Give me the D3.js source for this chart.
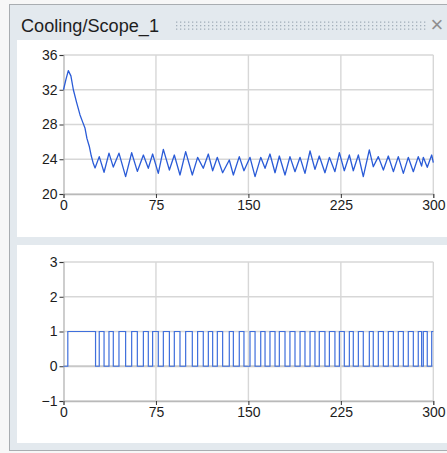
<!DOCTYPE html>
<html><head><meta charset="utf-8">
<script src="https://cdn.jsdelivr.net/npm/d3@7"></script>
<style>
html,body{margin:0;padding:0;background:#f7f7f7;}
svg{display:block;font-family:"Liberation Sans",Arial,sans-serif;}
</style></head>
<body>
<svg id="c" width="447" height="453"></svg>
<script>
const title = "Cooling/Scope_1";
const xTicks = [0, 75, 150, 225, 300];
const tempTicks = [20, 24, 28, 32, 36];
const switchTicks = [-1, 0, 1, 2, 3];

// Temperature trace (time, value) vertices
const tempTime = [0, 2, 3.9, 6, 8, 10.5, 13.4, 15.5, 17.4, 19, 20.9, 22.5, 24.2, 25.6,
  29, 32.9, 36.9, 40.4, 45, 50.4, 55.3, 59.9,
  64.8, 68.8, 72.3, 76.9, 81.0, 85.9, 89.9, 94.5, 99.1, 104.5, 108.8, 113.4, 117.5, 121.0,
  124.8, 129.1, 134.5, 137.8, 142.6, 146.4, 151.3, 155.4, 160.0, 163.5, 167.5, 171.6,
  175.1, 179.7, 183.7, 187.8, 191.9, 195.9, 200.0, 204.0, 207.5, 212.1, 215.7, 220.2,
  223.8, 227.8, 231.9, 235.1, 239.2, 243.2, 248.1, 251.3, 255.4, 259.5, 263.5, 267.6,
  271.6, 275.7, 279.7, 283.8, 287.8, 290.5, 291.9, 295.1, 298.7, 300];
const tempValue = [32.0, 33.2, 34.2, 33.6, 32.0, 30.6, 29.1, 28.3, 27.6, 26.4, 25.5, 24.4, 23.5, 23.0,
  24.3, 22.5, 24.7, 23.1, 24.7, 22.0, 24.75, 22.6,
  24.49, 22.96, 24.6, 22.38, 25.14, 22.76, 24.49, 22.19, 24.87, 22.19, 24.22, 22.96, 24.6, 22.68,
  24.22, 22.45, 23.91, 22.19, 24.3, 22.68, 24.22, 22.0, 24.22, 22.96, 24.6, 22.45,
  24.37, 22.19, 24.3, 22.57, 24.22, 22.38, 24.95, 22.84, 24.37, 22.45, 24.22, 22.57,
  24.76, 22.68, 24.49, 22.68, 24.49, 22.0, 25.07, 23.14, 24.3, 22.76, 24.37, 22.57,
  24.3, 22.38, 24.22, 22.57, 24.3, 23.22, 24.22, 23.07, 24.49, 23.6];

// Cooling switch: times where state changes, and the new state
const switchTime = [0, 3.5, 26, 29, 32.9, 36.9, 40.4, 45, 50.4, 55.3, 59.9,
  64.8, 68.8, 72.3, 76.9, 81.0, 85.9, 89.9, 94.5, 99.1, 104.5, 108.8, 113.4, 117.5, 121.0,
  124.8, 129.1, 134.5, 137.8, 142.6, 146.4, 151.3, 155.4, 160.0, 163.5, 167.5, 171.6,
  175.1, 179.7, 183.7, 187.8, 191.9, 195.9, 200.0, 204.0, 207.5, 212.1, 215.7, 220.2,
  223.8, 227.8, 231.9, 235.1, 239.2, 243.2, 248.1, 251.3, 255.4, 259.5, 263.5, 267.6,
  271.6, 275.7, 279.7, 283.8, 287.8, 290.5, 291.9, 295.1, 298.7, 300];
const switchState = [0, 1, 0, 1, 0, 1, 0, 1, 0, 1, 0,
  1, 0, 1, 0, 1, 0, 1, 0, 1, 0, 1, 0, 1, 0,
  1, 0, 1, 0, 1, 0, 1, 0, 1, 0, 1, 0,
  1, 0, 1, 0, 1, 0, 1, 0, 1, 0, 1, 0,
  1, 0, 1, 0, 1, 0, 1, 0, 1, 0, 1, 0,
  1, 0, 1, 0, 1, 0, 1, 0, 1, 1];

const svg = d3.select("#c");
const bg = "#e3e9ee";

// window frame
svg.append("rect").attr("x", 9.5).attr("y", 4.5).attr("width", 440).attr("height", 446)
  .attr("fill", bg).attr("stroke", "#a9adb1").attr("stroke-width", 1);

// title
svg.append("text").attr("x", 21).attr("y", 31.5).attr("font-size", 17.5)
  .attr("fill", "#1e1e1e").attr("textLength", 138).attr("lengthAdjust", "spacingAndGlyphs")
  .text(title);

// grip dots
const grip = svg.append("g").attr("fill", "#a3afba");
for (let gx = 176; gx <= 424; gx += 4) {
  [21.5, 25, 28.5].forEach(gy => {
    grip.append("rect").attr("x", gx).attr("y", gy).attr("width", 1.3).attr("height", 1.3);
  });
}
// close glyph
svg.append("text").attr("x", 437).attr("y", 32).attr("font-size", 22).attr("fill", "#8f8f8f")
  .attr("text-anchor", "middle").text("\u00d7");

// panels
svg.append("rect").attr("x", 17).attr("y", 40).attr("width", 430).attr("height", 197).attr("fill", "#fff");
svg.append("rect").attr("x", 17).attr("y", 245).attr("width", 430).attr("height", 198).attr("fill", "#fff");

const x = d3.scaleLinear().domain([0, 300]).range([63.5, 433.3]);

function drawAxes(y, yTicks, bottom) {
  const g = svg.append("g");
  g.selectAll(".hg").data(yTicks).enter().append("line")
    .attr("x1", x(0)).attr("x2", x(300)).attr("y1", d => y(d)).attr("y2", d => y(d))
    .attr("stroke", d => d === 0 ? "#c8c8c8" : "#d7d7d7").attr("stroke-width", d => d === 0 ? 2 : 1.4);
  g.selectAll(".vg").data(xTicks.slice(1)).enter().append("line")
    .attr("x1", d => x(d)).attr("x2", d => x(d)).attr("y1", y.range()[1]).attr("y2", y.range()[0])
    .attr("stroke", "#d7d7d7").attr("stroke-width", 1.4);
  const ya = d3.axisLeft(y).tickValues(yTicks).tickSize(4).tickPadding(2).tickFormat(d3.format("d"));
  const yg = svg.append("g").attr("transform", `translate(${x(0)},0)`).call(ya);
  yg.select(".domain").attr("stroke", "#b9b9b9").attr("stroke-width", 1.4);
  yg.selectAll(".tick line").attr("stroke", "#333");
  yg.selectAll(".tick text").attr("font-size", 14).attr("fill", "#1c1c1c")
    .attr("font-family", "'Liberation Sans',Arial,sans-serif");
  const xa = d3.axisBottom(x).tickValues(xTicks).tickSize(4).tickPadding(2).tickFormat(d3.format("d"));
  const xg = svg.append("g").attr("transform", `translate(0,${bottom})`).call(xa);
  xg.select(".domain").attr("stroke", "#b9b9b9").attr("stroke-width", 1.4);
  xg.selectAll(".tick line").attr("stroke", "#333");
  xg.selectAll(".tick text").attr("font-size", 14).attr("fill", "#1c1c1c")
    .attr("font-family", "'Liberation Sans',Arial,sans-serif");
}

// top chart
const yT = d3.scaleLinear().domain([20, 36]).range([194, 55]);
drawAxes(yT, tempTicks, 194);
const tempData = tempTime.map((t, i) => [t, tempValue[i]]);
svg.append("path").datum(tempData)
  .attr("d", d3.line().x(d => x(d[0])).y(d => yT(d[1])))
  .attr("fill", "none").attr("stroke", "#2a5bd7").attr("stroke-width", 1.3)
  .attr("stroke-linejoin", "round");

// bottom chart
const yB = d3.scaleLinear().domain([-1, 3]).range([401, 262]);
drawAxes(yB, switchTicks, 401);
const swData = switchTime.map((t, i) => [t, switchState[i]]);
svg.append("path").datum(swData)
  .attr("d", d3.line().curve(d3.curveStepAfter).x(d => x(d[0])).y(d => yB(d[1])))
  .attr("fill", "none").attr("stroke", "#3f6fdc").attr("stroke-width", 1.2);
</script>
</body></html>
